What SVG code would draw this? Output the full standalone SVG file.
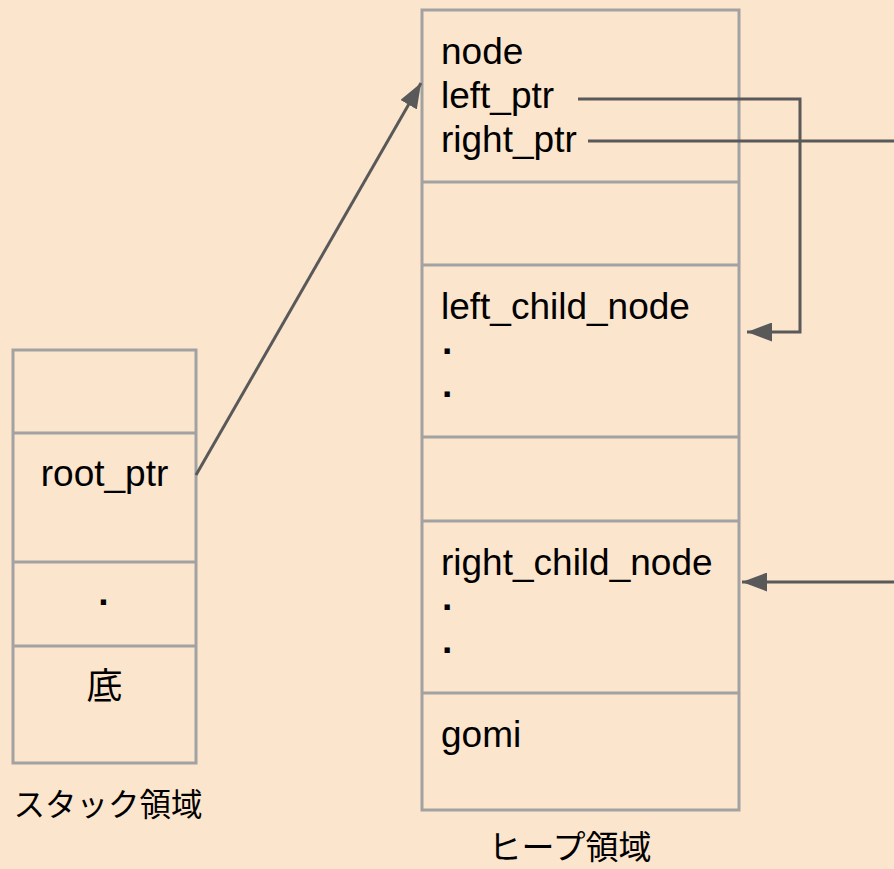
<svg xmlns="http://www.w3.org/2000/svg" width="894" height="869" viewBox="0 0 894 869">
<style>
.box{fill:none;stroke:#a2a2a2;stroke-width:3}
.t{font-family:"Liberation Sans",Arial,"Noto Sans CJK JP",sans-serif;font-size:37px;fill:#000}
.j{font-family:"Noto Sans CJK JP","Liberation Sans",sans-serif;fill:#000}
.c{fill:none;stroke:#595959;stroke-width:3}
</style>
<defs>
<marker id="ah" markerWidth="25" markerHeight="19" refX="25" refY="9.5" orient="auto" markerUnits="userSpaceOnUse">
<path d="M0,0 L25,9.5 L0,19 Z" fill="#595959"/>
</marker>
</defs>
<rect width="894" height="869" fill="#fce5cd"/>
<g id="stack">
<rect class="box" x="13" y="350" width="183" height="413"/>
<line class="box" x1="13" y1="433" x2="196" y2="433"/>
<line class="box" x1="13" y1="562" x2="196" y2="562"/>
<line class="box" x1="13" y1="646" x2="196" y2="646"/>
<text class="t" x="104.5" y="486" text-anchor="middle">root_ptr</text>
<text class="t" x="104.5" y="615" text-anchor="middle" font-weight="bold">·</text>
<text class="j" x="104.5" y="699" text-anchor="middle" font-size="36">底</text>
<text class="j" x="108" y="816" text-anchor="middle" font-size="31.5">スタック領域</text>
</g>
<g id="heap">
<rect class="box" x="422" y="10" width="317" height="800"/>
<line class="box" x1="422" y1="182" x2="739" y2="182"/>
<line class="box" x1="422" y1="265" x2="739" y2="265"/>
<line class="box" x1="422" y1="437" x2="739" y2="437"/>
<line class="box" x1="422" y1="521" x2="739" y2="521"/>
<line class="box" x1="422" y1="693" x2="739" y2="693"/>
<text class="t" x="441" y="64">node</text>
<text class="t" x="441" y="108">left_ptr</text>
<text class="t" x="441" y="152">right_ptr</text>
<text class="t" x="441" y="319">left_child_node</text>
<text class="t" x="442" y="364" font-weight="bold">·</text>
<text class="t" x="442" y="407" font-weight="bold">·</text>
<text class="t" x="441" y="575">right_child_node</text>
<text class="t" x="442" y="620" font-weight="bold">·</text>
<text class="t" x="442" y="663" font-weight="bold">·</text>
<text class="t" x="441" y="747">gomi</text>
<text class="j" x="570" y="859" text-anchor="middle" font-size="33">ヒープ領域</text>
</g>
<g id="connectors">
<line class="c" x1="196" y1="475" x2="421" y2="83" marker-end="url(#ah)"/>
<polyline class="c" points="578,99 800,99 800,332 747,332" marker-end="url(#ah)"/>
<line class="c" x1="588" y1="141" x2="894" y2="141"/>
<line class="c" x1="894" y1="582" x2="742" y2="582" marker-end="url(#ah)"/>
</g>
</svg>
